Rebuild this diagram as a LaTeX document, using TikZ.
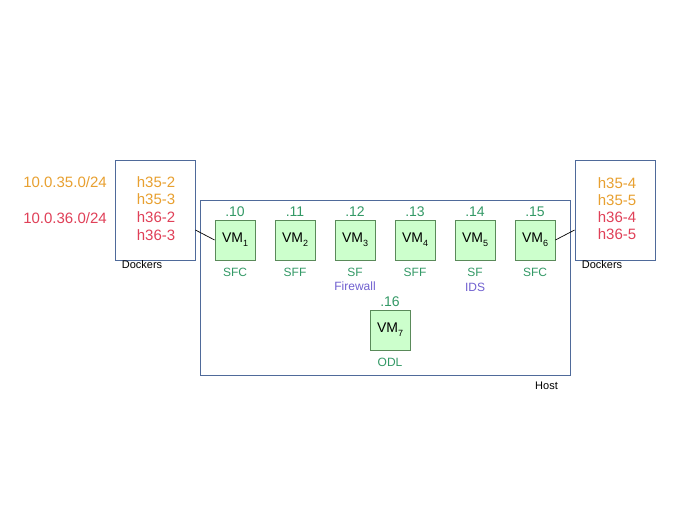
\documentclass[tikz,border=0pt]{standalone}
\usepackage{fontspec}
\setmainfont{Liberation Sans}
\definecolor{boxblue}{HTML}{4F6A9A}
\definecolor{orng}{HTML}{E8A030}
\definecolor{rd}{HTML}{E04058}
\definecolor{grn}{HTML}{339966}
\definecolor{vmfill}{HTML}{CCFFCC}
\definecolor{vmdraw}{HTML}{5A8A5A}
\definecolor{purp}{HTML}{7060D0}
\tikzset{
  frame/.style={draw=boxblue, line width=0.8pt, inner sep=0pt},
  vmbox/.style={draw=vmdraw, fill=vmfill, line width=0.8pt, minimum width=40pt, minimum height=40pt, inner sep=0pt, font=\fontsize{14}{16}\selectfont},
  ip/.style={text=grn, anchor=base, inner sep=0pt, font=\fontsize{14}{16}\selectfont},
  role/.style={text=grn, anchor=base, inner sep=0pt, font=\fontsize{12}{14}\selectfont},
  sfname/.style={text=purp, anchor=base, inner sep=0pt, font=\fontsize{12}{14}\selectfont},
  big/.style={anchor=base, inner sep=0pt, font=\fontsize{15}{17}\selectfont},
  small/.style={anchor=base, inner sep=0pt, font=\fontsize{11}{13}\selectfont},
  link/.style={draw=black, line width=0.7pt}
}
\newcommand{\vmname}[1]{VM\raisebox{-4pt}{\fontsize{9}{10}\selectfont #1}}
\begin{document}
\begin{tikzpicture}[x=1pt,y=-1pt]
\useasboundingbox[fill=white] (0,0) rectangle (700,525);
% frames
\node[frame, minimum width=80pt, minimum height=100pt] (ld) at (155,210) {};
\node[frame, minimum width=370pt, minimum height=175pt] (host) at (385,287.5) {};
\node[frame, minimum width=80pt, minimum height=100pt] (rdk) at (615,210) {};
% left texts
\node[big, text=orng] (net35) at (65,187) {10.0.35.0/24};
\node[big, text=rd] (net36) at (65,223) {10.0.36.0/24};
\node[big, text=orng] (l1) at (156,187) {h35-2};
\node[big, text=orng] (l2) at (156,204) {h35-3};
\node[big, text=rd] (l3) at (156,222) {h36-2};
\node[big, text=rd] (l4) at (156,240) {h36-3};
\node[small] (ldl) at (142,268) {Dockers};
% right texts
\node[big, text=orng] (r1) at (617,188) {h35-4};
\node[big, text=orng] (r2) at (617,205) {h35-5};
\node[big, text=rd] (r3) at (617,222) {h36-4};
\node[big, text=rd] (r4) at (617,239) {h36-5};
\node[small] (rdl) at (602,268) {Dockers};
\node[small, anchor=base east] (hostl) at (558,389) {Host};
% VMs
\node[vmbox] (vm1) at (235,240) {\vmname{1}};
\node[vmbox] (vm2) at (295,240) {\vmname{2}};
\node[vmbox] (vm3) at (355,240) {\vmname{3}};
\node[vmbox] (vm4) at (415,240) {\vmname{4}};
\node[vmbox] (vm5) at (475,240) {\vmname{5}};
\node[vmbox] (vm6) at (535,240) {\vmname{6}};
\node[vmbox] (vm7) at (390,330) {\vmname{7}};
% ip labels
\node[ip] (ip1) at ([yshift=3pt]vm1.north) {.10};
\node[ip] (ip2) at ([yshift=3pt]vm2.north) {.11};
\node[ip] (ip3) at ([yshift=3pt]vm3.north) {.12};
\node[ip] (ip4) at ([yshift=3pt]vm4.north) {.13};
\node[ip] (ip5) at ([yshift=3pt]vm5.north) {.14};
\node[ip] (ip6) at ([yshift=3pt]vm6.north) {.15};
\node[ip] (ip7) at ([yshift=3pt]vm7.north) {.16};
% roles
\node[role] (ro1) at ([yshift=-16pt]vm1.south) {SFC};
\node[role] (ro2) at ([yshift=-16pt]vm2.south) {SFF};
\node[role] (ro3) at ([yshift=-16pt]vm3.south) {SF};
\node[sfname] (fw) at ([yshift=-30pt]vm3.south) {Firewall};
\node[role] (ro4) at ([yshift=-16pt]vm4.south) {SFF};
\node[role] (ro5) at ([yshift=-16pt]vm5.south) {SF};
\node[sfname] (ids) at ([yshift=-31pt]vm5.south) {IDS};
\node[role] (ro6) at ([yshift=-16pt]vm6.south) {SFC};
\node[role] (ro7) at ([yshift=-16pt]vm7.south) {ODL};
% links
\draw[link] ([yshift=-20pt]ld.east) -- (vm1.west);
\draw[link] (vm6.east) -- ([yshift=-20pt]rdk.west);
\end{tikzpicture}
\end{document}
